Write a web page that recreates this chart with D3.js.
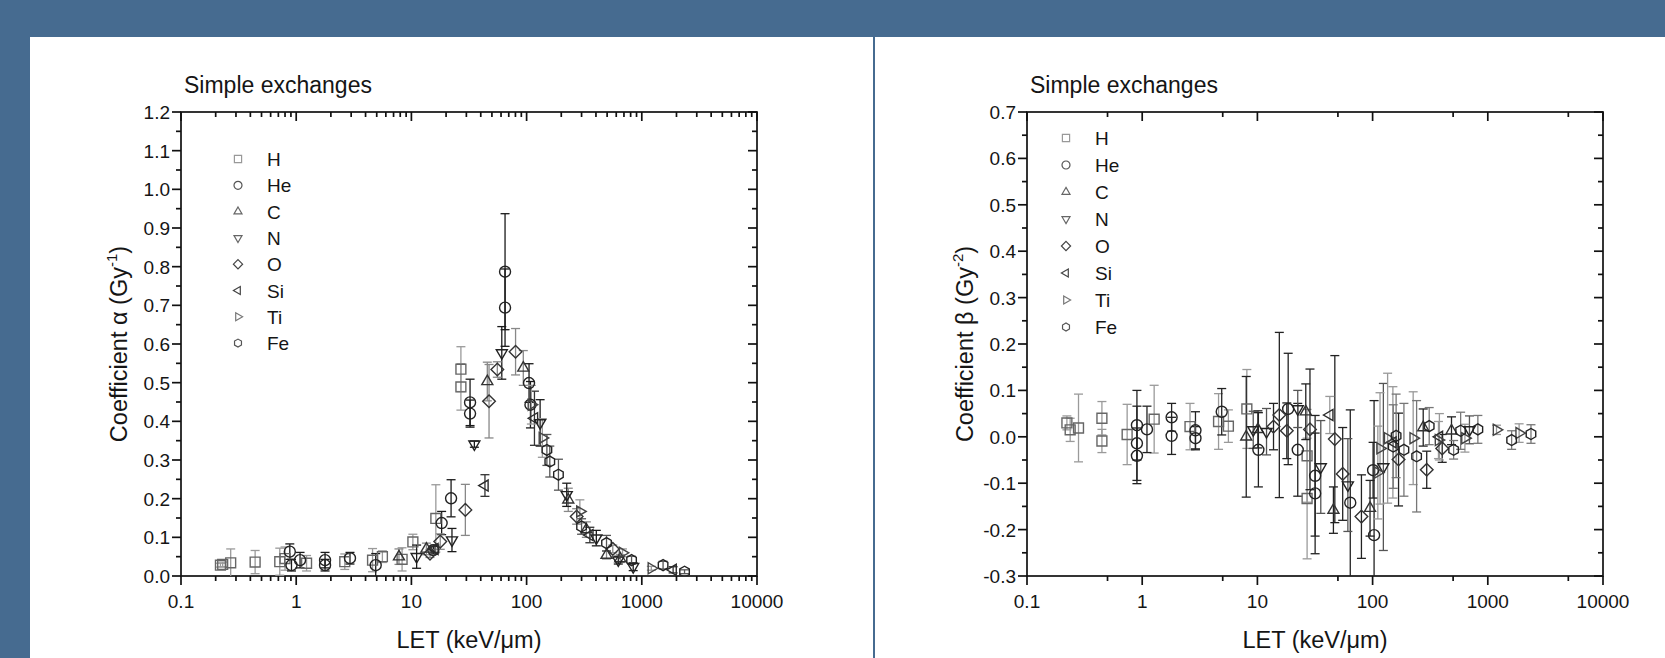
<!DOCTYPE html>
<html>
<head>
<meta charset="utf-8">
<script src="https://cdn.jsdelivr.net/npm/d3@7"></script>
<style>
  html, body { margin: 0; padding: 0; background: #466b90; }
  svg { display: block; }
  text { font-family: "Liberation Sans", Arial, sans-serif; fill: #151515; }
</style>
</head>
<body>
<script>
// alpha / beta coefficients vs LET, simple exchanges
// each entry: [LET (keV/um), value, error]
const ions = ['H', 'He', 'C', 'N', 'O', 'Si', 'Ti', 'Fe']
const shapes = ['square', 'circle', 'up', 'down', 'diamond', 'left', 'right', 'hex']

const alphaH = [[0.22, 0.028, 0.005], [0.23, 0.030, 0.006], [0.27, 0.034, 0.036], [0.44, 0.036, 0.03], [0.72, 0.037, 0.035], [0.80, 0.045, 0.03], [1.23, 0.033, 0.02], [2.64, 0.037, 0.02], [4.6, 0.041, 0.03], [5.6, 0.05, 0.015], [8.3, 0.043, 0.03], [10.3, 0.088, 0.02], [16.3, 0.149, 0.087], [26.9, 0.535, 0.058], [26.9, 0.489, 0.06]]
const alphaHe = [[0.88, 0.063, 0.02], [0.91, 0.028, 0.015], [1.08, 0.041, 0.02], [1.78, 0.041, 0.02], [1.78, 0.028, 0.015], [2.93, 0.046, 0.015], [4.9, 0.028, 0.03], [15.5, 0.067, 0.01], [18.3, 0.137, 0.03], [22.1, 0.201, 0.048], [32.3, 0.449, 0.06], [32.3, 0.42, 0.035], [65, 0.787, 0.15], [65, 0.694, 0.1], [105, 0.499, 0.05], [108, 0.443, 0.06]]
const alphaC = [[7.8, 0.05, 0.02], [13.5, 0.07, 0.015], [45.6, 0.503, 0.05], [93.6, 0.538, 0.045], [230, 0.197, 0.03], [330, 0.12, 0.02], [494, 0.054, 0.01], [650, 0.045, 0.01]]
const alphaN = [[11.1, 0.05, 0.03], [22.5, 0.093, 0.03], [35.2, 0.341, 0.008], [60.9, 0.577, 0.068], [131, 0.396, 0.06], [223, 0.21, 0.03], [403, 0.098, 0.02], [625, 0.041, 0.01], [842, 0.024, 0.01]]
const alphaO = [[14.5, 0.058, 0.01], [17.8, 0.089, 0.02], [29.4, 0.171, 0.066], [47.2, 0.452, 0.095], [55.7, 0.534, 0.02], [80.2, 0.58, 0.06], [272, 0.154, 0.02], [560, 0.07, 0.01]]
const alphaSi = [[16, 0.07, 0.01], [43.5, 0.234, 0.028], [117, 0.408, 0.07], [354, 0.106, 0.02], [1870, 0.016, 0.008]]
const alphaTi = [[110, 0.443, 0.05], [137, 0.357, 0.05], [290, 0.167, 0.03], [680, 0.06, 0.01], [1210, 0.02, 0.005]]
const alphaFe = [[150, 0.326, 0.04], [159, 0.296, 0.04], [189, 0.262, 0.04], [300, 0.128, 0.02], [494, 0.085, 0.02], [815, 0.041, 0.01], [1530, 0.028, 0.01], [2350, 0.011, 0.005]]

const betaH = [[0.222, 0.03, 0.015], [0.237, 0.015, 0.025], [0.28, 0.019, 0.073], [0.447, 0.04, 0.036], [0.447, -0.009, 0.025], [0.74, 0.005, 0.065], [1.27, 0.038, 0.073], [2.6, 0.022, 0.05], [4.6, 0.033, 0.06], [5.6, 0.023, 0.035], [8.1, 0.06, 0.085], [27, -0.041, 0.1], [27, -0.133, 0.13]]
const betaHe = [[0.9, 0.025, 0.075], [0.9, -0.014, 0.08], [0.9, -0.041, 0.06], [1.1, 0.016, 0.05], [1.8, 0.042, 0.03], [1.8, 0.002, 0.04], [2.9, 0.014, 0.04], [2.9, -0.003, 0.025], [4.9, 0.054, 0.05], [10.2, -0.028, 0.08], [18.5, 0.06, 0.12], [22.4, -0.028, 0.1], [31.7, -0.084, 0.13], [31.7, -0.122, 0.13], [64, -0.142, 0.2], [101, -0.072, 0.06], [103, -0.212, 0.29]]
const betaC = [[8.0, 0.0, 0.13], [10.1, 0.016, 0.04], [26.3, 0.054, 0.06], [45.7, -0.158, 0.05], [95, -0.154, 0.06], [275, 0.02, 0.04], [484, 0.013, 0.03]]
const betaN = [[9.2, 0.015, 0.04], [12, 0.011, 0.05], [22.4, 0.06, 0.04], [35.5, -0.065, 0.1], [61, -0.104, 0.1], [124, -0.065, 0.18], [693, 0.015, 0.03]]
const betaO = [[13.8, 0.022, 0.05], [15.5, 0.047, 0.178], [18, 0.013, 0.06], [28.6, 0.016, 0.13], [47, -0.005, 0.18], [55, -0.08, 0.1], [80, -0.172, 0.09], [168, -0.049, 0.1], [295, -0.071, 0.04], [402, -0.025, 0.03]]
const betaSi = [[42.5, 0.047, 0.04], [150, -0.012, 0.12], [380, 0.0, 0.05]]
const betaTi = [[111, -0.077, 0.1], [116, -0.025, 0.12], [135, -0.003, 0.14], [225, -0.003, 0.1], [373, -0.007, 0.04], [633, -0.003, 0.03], [1190, 0.015, 0.01], [1870, 0.008, 0.02]]
const betaFe = [[151, -0.021, 0.09], [160, 0.002, 0.09], [187, -0.028, 0.1], [241, -0.042, 0.12], [310, 0.023, 0.04], [505, -0.028, 0.02], [581, 0.013, 0.04], [820, 0.016, 0.03], [1610, -0.007, 0.02], [2370, 0.006, 0.02]]

const alphaData = [alphaH, alphaHe, alphaC, alphaN, alphaO, alphaSi, alphaTi, alphaFe]
const betaData = [betaH, betaHe, betaC, betaN, betaO, betaSi, betaTi, betaFe]

const xTicks = [0.1, 1, 10, 100, 1000, 10000]
const alphaTicks = [0, 0.1, 0.2, 0.3, 0.4, 0.5, 0.6, 0.7, 0.8, 0.9, 1.0, 1.1, 1.2]
const betaTicks = [-0.3, -0.2, -0.1, 0, 0.1, 0.2, 0.3, 0.4, 0.5, 0.6, 0.7]

const symColor = ['#666', '#222', '#333', '#222', '#333', '#2a2a2a', '#444', '#222']
const alphaErrColor = ['#9a9a9a', '#1a1a1a', '#888', '#1a1a1a', '#888', '#333', '#999', '#555']
const betaErrColor = ['#9a9a9a', '#222', '#222', '#555', '#222', '#999', '#999', '#777']
const legColor = ['#999', '#555', '#666', '#666', '#444', '#444', '#777', '#555']

const W = 1665
const H = 658

const svg = d3.select('body').append('svg')
  .attr('width', W)
  .attr('height', H)

// white slide panels
svg.append('rect').attr('x', 30).attr('y', 37).attr('width', 843).attr('height', H - 37).attr('fill', '#fff')
svg.append('rect').attr('x', 875).attr('y', 37).attr('width', W - 875).attr('height', H - 37).attr('fill', '#fff')

function shapePath (shape, r) {
  if (shape === 'square') {
    const s = r * 0.9
    return `M${-s},${-s}H${s}V${s}H${-s}Z`
  }
  if (shape === 'circle') {
    return d3.symbol(d3.symbolCircle, Math.PI * r * r)()
  }
  let pts
  const t = r * 1.15
  if (shape === 'up') pts = [[0, -t], [t * 0.87, t * 0.5], [-t * 0.87, t * 0.5]]
  if (shape === 'down') pts = [[0, t], [t * 0.87, -t * 0.5], [-t * 0.87, -t * 0.5]]
  if (shape === 'left') pts = [[-t, 0], [t * 0.5, -t * 0.87], [t * 0.5, t * 0.87]]
  if (shape === 'right') pts = [[t, 0], [-t * 0.5, -t * 0.87], [-t * 0.5, t * 0.87]]
  if (shape === 'diamond') pts = [[0, -t], [t, 0], [0, t], [-t, 0]]
  if (shape === 'hex') pts = d3.range(6).map((i) => [r * Math.cos(Math.PI / 3 * i + Math.PI / 6), r * Math.sin(Math.PI / 3 * i + Math.PI / 6)])
  return 'M' + pts.map((p) => p[0].toFixed(2) + ',' + p[1].toFixed(2)).join('L') + 'Z'
}

function drawPanel (opt) {
  const x = d3.scaleLog().domain([0.1, 10000]).range([opt.x0, opt.x1])
  const y = d3.scaleLinear().domain(opt.yDomain).range([opt.y1, opt.y0])
  const g = svg.append('g')

  const clipId = 'clip' + opt.id
  g.append('clipPath').attr('id', clipId)
    .append('rect')
    .attr('x', opt.x0).attr('y', opt.y0)
    .attr('width', opt.x1 - opt.x0).attr('height', opt.y1 - opt.y0)

  // minor ticks on the log axis
  const minor = []
  for (let d = 0.1; d < 10000; d *= 10) {
    opt.minorMult.forEach((m) => minor.push(d * m))
  }
  const yMinor = []
  for (let v = opt.yDomain[0] + 0.05; v < opt.yDomain[1]; v += 0.1) yMinor.push(+v.toFixed(3))

  const axes = g.append('g').attr('stroke', '#111').attr('stroke-width', 1.7)
  // bottom (out) / top (in)
  xTicks.forEach((t) => {
    axes.append('line').attr('x1', x(t)).attr('x2', x(t)).attr('y1', opt.y1).attr('y2', opt.y1 + 9)
    axes.append('line').attr('x1', x(t)).attr('x2', x(t)).attr('y1', opt.y0).attr('y2', opt.y0 + 9)
  })
  minor.forEach((t) => {
    axes.append('line').attr('x1', x(t)).attr('x2', x(t)).attr('y1', opt.y1).attr('y2', opt.y1 + 5)
    axes.append('line').attr('x1', x(t)).attr('x2', x(t)).attr('y1', opt.y0).attr('y2', opt.y0 + 5)
  })
  // left (out) / right (in)
  opt.yTicks.forEach((t) => {
    axes.append('line').attr('y1', y(t)).attr('y2', y(t)).attr('x1', opt.x0 - 9).attr('x2', opt.x0)
    axes.append('line').attr('y1', y(t)).attr('y2', y(t)).attr('x1', opt.x1 - 9).attr('x2', opt.x1)
  })
  yMinor.forEach((t) => {
    axes.append('line').attr('y1', y(t)).attr('y2', y(t)).attr('x1', opt.x0 - 5).attr('x2', opt.x0)
    axes.append('line').attr('y1', y(t)).attr('y2', y(t)).attr('x1', opt.x1 - 5).attr('x2', opt.x1)
  })
  axes.append('rect')
    .attr('x', opt.x0).attr('y', opt.y0)
    .attr('width', opt.x1 - opt.x0).attr('height', opt.y1 - opt.y0)
    .attr('fill', 'none')

  // tick labels
  g.selectAll('.xl').data(xTicks).enter().append('text')
    .attr('x', (d) => x(d))
    .attr('y', opt.y1 + 32)
    .attr('text-anchor', 'middle')
    .attr('font-size', 19)
    .text((d) => d)
  g.selectAll('.yl').data(opt.yTicks).enter().append('text')
    .attr('x', opt.x0 - 11)
    .attr('y', (d) => y(d) + 7)
    .attr('text-anchor', 'end')
    .attr('font-size', 19)
    .text((d) => d.toFixed(1))

  // titles
  g.append('text').attr('x', opt.x0 + 3).attr('y', 93).attr('font-size', 23).text('Simple exchanges')
  g.append('text')
    .attr('x', (opt.x0 + opt.x1) / 2).attr('y', 648)
    .attr('text-anchor', 'middle').attr('font-size', 23.5)
    .text('LET (keV/μm)')
  const yt = g.append('text')
    .attr('transform', `translate(${opt.x0 - 54},${(opt.y0 + opt.y1) / 2}) rotate(-90)`)
    .attr('text-anchor', 'middle').attr('font-size', 23.5)
  yt.append('tspan').text('Coefficient ' + opt.sym + ' (Gy')
  yt.append('tspan').attr('dy', -10).attr('font-size', 15).text(opt.exp)
  yt.append('tspan').attr('dy', 10).text(')')

  // data: error bars then symbols
  const plot = g.append('g').attr('clip-path', `url(#${clipId})`)
  opt.data.forEach((series, i) => {
    const eg = plot.append('g').attr('stroke', opt.errColor[i]).attr('stroke-width', 1.3)
    series.forEach((d) => {
      const px = x(d[0])
      eg.append('line').attr('x1', px).attr('x2', px).attr('y1', y(d[1] - d[2])).attr('y2', y(d[1] + d[2]))
      eg.append('line').attr('x1', px - 4.5).attr('x2', px + 4.5).attr('y1', y(d[1] + d[2])).attr('y2', y(d[1] + d[2]))
      eg.append('line').attr('x1', px - 4.5).attr('x2', px + 4.5).attr('y1', y(d[1] - d[2])).attr('y2', y(d[1] - d[2]))
    })
  })
  opt.data.forEach((series, i) => {
    plot.selectAll('.s' + i).data(series).enter().append('path')
      .attr('d', shapePath(shapes[i], 5.5))
      .attr('transform', (d) => `translate(${x(d[0])},${y(d[1])})`)
      .attr('fill', 'none')
      .attr('stroke', symColor[i])
      .attr('stroke-width', 1.4)
  })

  // legend
  const lg = g.append('g')
  ions.forEach((name, i) => {
    const ly = opt.legY + i * opt.legStep
    lg.append('path')
      .attr('d', shapePath(shapes[i], 4))
      .attr('transform', `translate(${opt.legX},${ly})`)
      .attr('fill', 'none')
      .attr('stroke', legColor[i])
      .attr('stroke-width', 1.2)
    lg.append('text')
      .attr('x', opt.legX + 29).attr('y', ly + 7)
      .attr('font-size', 19)
      .text(name)
  })
}

drawPanel({ id: 'a', x0: 181, x1: 757, y0: 112, y1: 576, yDomain: [0, 1.2], yTicks: alphaTicks, minorMult: [2, 3, 4, 5, 6, 7, 8, 9], data: alphaData, errColor: alphaErrColor, sym: 'α', exp: '-1', legX: 238, legY: 159, legStep: 26.3 })
drawPanel({ id: 'b', x0: 1027, x1: 1603, y0: 112, y1: 576, yDomain: [-0.3, 0.7], yTicks: betaTicks, minorMult: [5], data: betaData, errColor: betaErrColor, sym: 'β', exp: '-2', legX: 1066, legY: 138, legStep: 27 })
</script>
</body>
</html>
